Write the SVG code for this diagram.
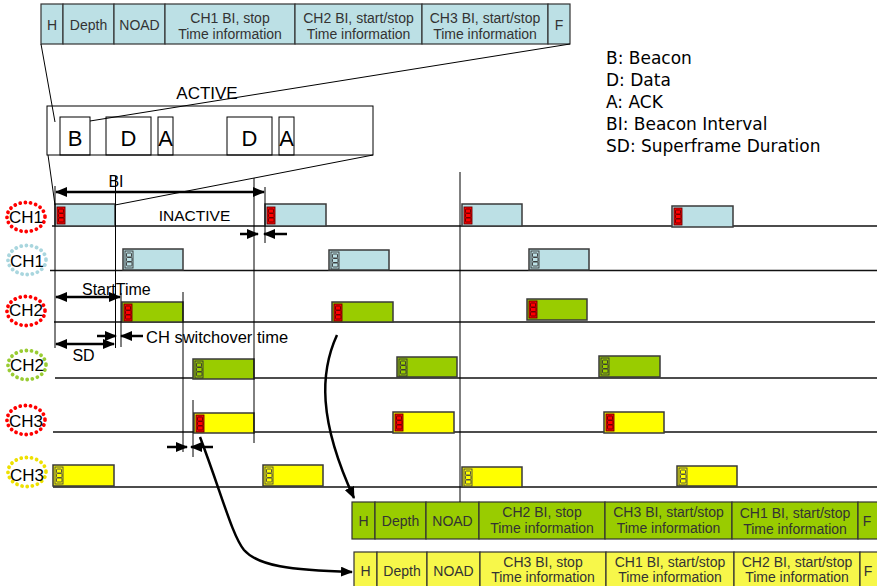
<svg xmlns="http://www.w3.org/2000/svg" xmlns:xlink="http://www.w3.org/1999/xlink" width="877" height="586" viewBox="0 0 877 586">
<style>
  text { font-family: "Liberation Sans", Arial, sans-serif; fill: #000; }
  .ft { font-size: 14px; fill: #333; text-anchor: middle; }
  .cell { stroke: #333; stroke-width: 1.2; }
  .blue { fill: #BCE0E5; }
  .green { fill: #99CC00; }
  .yel { fill: #FFFF00; }
  .yel2 { fill: #F7F74A; }
  .blk { stroke: #3a3a3a; stroke-width: 1.5; }
  .ir { fill: #FF0000; stroke: #600; stroke-width: 0.9; }
  .ib { fill: #BCE0E5; stroke: #333; stroke-width: 0.9; }
  .ig { fill: #99CC00; stroke: #333; stroke-width: 0.9; }
  .iy { fill: #FFFF00; stroke: #444; stroke-width: 0.9; }
  .tl { stroke: #111; stroke-width: 1.5; fill: none; }
  .thin { stroke: #000; stroke-width: 1; fill: none; }
  .arr { stroke: #000; stroke-width: 2.5; fill: none; }
  .ell { fill: none; stroke-width: 3.8; stroke-linecap: round; stroke-dasharray: 0.01 5.2; }
  .lbl { font-size: 17px; text-anchor: middle; }
  .box { fill: none; stroke: #000; stroke-width: 1; }
  .big { font-size: 22px; text-anchor: middle; }
  .leg { font-family: "DejaVu Sans", sans-serif; font-size: 17px; }
</style>
<defs>
  <marker id="ah" markerUnits="userSpaceOnUse" markerWidth="12" markerHeight="10" refX="11" refY="5" orient="auto-start-reverse">
    <path d="M0,0 L12,5 L0,10 z" fill="#000"/>
  </marker>
  <g id="bicon">
    <rect x="0" y="0" width="8" height="17"/>
    <rect x="1.5" y="2" width="5" height="4" rx="0.8"/>
    <rect x="1.5" y="6.5" width="5.5" height="4" rx="0.8"/>
    <rect x="1.5" y="11" width="5.5" height="4" rx="0.8"/>
  </g>
</defs>
<rect width="877" height="586" fill="#fff"/>

<!-- Top frame -->
<g id="frame-ch1">
  <rect class="cell blue" x="41" y="4" width="22" height="40"/>
  <rect class="cell blue" x="63" y="4" width="51" height="40"/>
  <rect class="cell blue" x="114" y="4" width="51" height="40"/>
  <rect class="cell blue" x="165" y="4" width="130" height="40"/>
  <rect class="cell blue" x="295" y="4" width="127" height="40"/>
  <rect class="cell blue" x="422" y="4" width="126" height="40"/>
  <rect class="cell blue" x="548" y="4" width="22" height="40"/>
  <text class="ft" x="52" y="30">H</text>
  <text class="ft" x="88.5" y="30">Depth</text>
  <text class="ft" x="139.5" y="30">NOAD</text>
  <text class="ft" x="230" y="23">CH1 BI, stop</text>
  <text class="ft" x="230" y="39">Time information</text>
  <text class="ft" x="358.5" y="23">CH2 BI, start/stop</text>
  <text class="ft" x="358.5" y="39">Time information</text>
  <text class="ft" x="485" y="23">CH3 BI, start/stop</text>
  <text class="ft" x="485" y="39">Time information</text>
  <text class="ft" x="559" y="30">F</text>
</g>

<!-- Legend -->
<g id="legend">
  <text class="leg" x="606" y="64">B: Beacon</text>
  <text class="leg" x="606" y="86">D: Data</text>
  <text class="leg" x="606" y="108">A: ACK</text>
  <text class="leg" x="606" y="130">BI: Beacon Interval</text>
  <text class="leg" x="606" y="152">SD: Superframe Duration</text>
</g>

<!-- Active detail -->
<g id="active">
  <text x="207" y="99" style="font-size:17px;text-anchor:middle">ACTIVE</text>
  <rect class="box" x="47" y="106" width="326" height="49"/>
  <rect class="box" x="60" y="117" width="30" height="38"/>
  <rect class="box" x="106" y="117" width="45" height="38"/>
  <rect class="box" x="158" y="117" width="15" height="38"/>
  <rect class="box" x="227" y="117" width="45" height="38"/>
  <rect class="box" x="279" y="117" width="15" height="38"/>
  <text class="big" x="75" y="146">B</text>
  <text class="big" x="128.5" y="146">D</text>
  <text class="big" x="165.5" y="146">A</text>
  <text class="big" x="249.5" y="146">D</text>
  <text class="big" x="286.5" y="146">A</text>
</g>

<!-- Channel labels -->
<g id="lbl-ch1-red"><ellipse class="ell" cx="26" cy="217" rx="19" ry="14.5" stroke="#FF0000"/><text class="lbl" x="26" y="223">CH1</text></g>
<g id="lbl-ch1-blue"><ellipse class="ell" cx="27" cy="260" rx="19" ry="14.5" stroke="#A9D6DE"/><text class="lbl" x="27" y="267">CH1</text></g>
<g id="lbl-ch2-red"><ellipse class="ell" cx="26" cy="311" rx="19" ry="14.5" stroke="#FF0000"/><text class="lbl" x="26" y="316">CH2</text></g>
<g id="lbl-ch2-green"><ellipse class="ell" cx="27" cy="365" rx="19" ry="14.5" stroke="#99CC33"/><text class="lbl" x="27" y="371">CH2</text></g>
<g id="lbl-ch3-red"><ellipse class="ell" cx="26" cy="420" rx="19" ry="14.5" stroke="#FF0000"/><text class="lbl" x="26" y="427">CH3</text></g>
<g id="lbl-ch3-yellow"><ellipse class="ell" cx="27" cy="472" rx="19" ry="14.5" stroke="#EEE000"/><text class="lbl" x="27" y="481">CH3</text></g>

<!-- Timeline baselines -->
<g id="timelines">
  <line class="tl" x1="52" y1="226" x2="877" y2="226"/>
  <line class="tl" x1="50" y1="270.5" x2="877" y2="270.5"/>
  <line class="tl" x1="54" y1="322" x2="875" y2="322"/>
  <line class="tl" x1="55" y1="378" x2="877" y2="378"/>
  <line class="tl" x1="53" y1="432" x2="877" y2="432"/>
  <line class="tl" x1="53" y1="487" x2="877" y2="487"/>
</g>

<!-- Blocks -->
<g id="ch1-blocks">
  <rect class="blk blue" x="55" y="204" width="60" height="22"/><use href="#bicon" x="57" y="207" class="ir"/>
  <rect class="blk blue" x="265" y="204" width="61" height="22"/><use href="#bicon" x="267" y="207" class="ir"/>
  <rect class="blk blue" x="462" y="204" width="60" height="22"/><use href="#bicon" x="464" y="207" class="ir"/>
  <rect class="blk blue" x="672" y="206" width="61" height="21"/><use href="#bicon" x="674" y="208" class="ir"/>
</g>
<g id="ch1b-blocks">
  <rect class="blk blue" x="123" y="249" width="60" height="21"/><use href="#bicon" x="125" y="251" class="ib"/>
  <rect class="blk blue" x="329" y="250" width="60" height="20"/><use href="#bicon" x="331" y="252" class="ib"/>
  <rect class="blk blue" x="529" y="249" width="60" height="21"/><use href="#bicon" x="531" y="251" class="ib"/>
</g>
<g id="ch2-blocks">
  <rect class="blk green" x="122" y="302" width="61" height="20"/><use href="#bicon" x="124" y="304" class="ir"/>
  <rect class="blk green" x="332" y="302" width="61" height="20"/><use href="#bicon" x="334" y="304" class="ir"/>
  <rect class="blk green" x="527" y="299" width="60" height="21"/><use href="#bicon" x="529" y="301" class="ir"/>
</g>
<g id="ch2g-blocks">
  <rect class="blk green" x="193" y="359" width="61" height="20"/><use href="#bicon" x="195" y="361" class="ig"/>
  <rect class="blk green" x="397" y="357" width="60" height="20"/><use href="#bicon" x="399" y="359" class="ig"/>
  <rect class="blk green" x="599" y="356" width="61" height="21"/><use href="#bicon" x="601" y="358" class="ig"/>
</g>
<g id="ch3-blocks">
  <rect class="blk yel" x="194" y="413" width="60" height="20"/><use href="#bicon" x="196" y="415" class="ir"/>
  <rect class="blk yel" x="393" y="412" width="61" height="21"/><use href="#bicon" x="395" y="414" class="ir"/>
  <rect class="blk yel" x="604" y="412" width="60" height="21"/><use href="#bicon" x="606" y="414" class="ir"/>
</g>
<g id="ch3y-blocks">
  <rect class="blk yel" x="53" y="465" width="61" height="21"/><use href="#bicon" x="55" y="467" class="iy"/>
  <rect class="blk yel" x="263" y="465" width="60" height="21"/><use href="#bicon" x="265" y="467" class="iy"/>
  <rect class="blk yel" x="462" y="467" width="60" height="20"/><use href="#bicon" x="464" y="469" class="iy"/>
  <rect class="blk yel" x="677" y="466" width="60" height="20"/><use href="#bicon" x="679" y="468" class="iy"/>
</g>

<!-- Bottom frames -->
<g id="frame-ch2">
  <rect class="cell green" x="352" y="502" width="23" height="37"/>
  <rect class="cell green" x="375" y="502" width="51" height="37"/>
  <rect class="cell green" x="426" y="502" width="53" height="37"/>
  <rect class="cell green" x="479" y="502" width="126" height="37"/>
  <rect class="cell green" x="605" y="502" width="127" height="37"/>
  <rect class="cell green" x="732" y="502" width="126" height="37"/>
  <rect class="cell green" x="858" y="502" width="24" height="37"/>
  <text class="ft" x="363.5" y="526">H</text>
  <text class="ft" x="400.5" y="526">Depth</text>
  <text class="ft" x="452.5" y="526">NOAD</text>
  <text class="ft" x="542" y="517">CH2 BI, stop</text>
  <text class="ft" x="542" y="533">Time information</text>
  <text class="ft" x="668.5" y="517">CH3 BI, start/stop</text>
  <text class="ft" x="668.5" y="533">Time information</text>
  <text class="ft" x="795" y="518">CH1 BI, start/stop</text>
  <text class="ft" x="795" y="534">Time information</text>
  <text class="ft" x="867" y="526">F</text>
</g>
<g id="frame-ch3">
  <rect class="cell yel2" x="354" y="552" width="23" height="40"/>
  <rect class="cell yel2" x="377" y="552" width="50" height="40"/>
  <rect class="cell yel2" x="427" y="552" width="53" height="40"/>
  <rect class="cell yel2" x="480" y="552" width="126" height="40"/>
  <rect class="cell yel2" x="606" y="552" width="128" height="40"/>
  <rect class="cell yel2" x="734" y="552" width="126" height="40"/>
  <rect class="cell yel2" x="860" y="552" width="24" height="40"/>
  <text class="ft" x="365.5" y="576">H</text>
  <text class="ft" x="402" y="576">Depth</text>
  <text class="ft" x="453.5" y="576">NOAD</text>
  <text class="ft" x="543" y="567">CH3 BI, stop</text>
  <text class="ft" x="543" y="582">Time information</text>
  <text class="ft" x="670" y="567">CH1 BI, start/stop</text>
  <text class="ft" x="670" y="582">Time information</text>
  <text class="ft" x="797" y="567">CH2 BI, start/stop</text>
  <text class="ft" x="797" y="582">Time information</text>
  <text class="ft" x="868" y="576">F</text>
</g>

<!-- Connectors -->
<g id="connectors">
  <line class="thin" x1="41" y1="44" x2="55" y2="122"/>
  <line class="thin" x1="570" y1="44" x2="90" y2="121"/>
  <line class="thin" x1="48" y1="155" x2="55" y2="205"/>
  <line class="thin" x1="373" y1="155" x2="115" y2="205"/>
  <line class="thin" x1="55" y1="186" x2="55" y2="348"/>
  <line class="thin" x1="115.5" y1="176" x2="115.5" y2="348"/>
  <line class="thin" x1="121" y1="293" x2="121" y2="347"/>
  <line class="thin" x1="183" y1="292" x2="183" y2="452"/>
  <line class="thin" x1="193" y1="400" x2="193" y2="457"/>
  <line class="thin" x1="254" y1="178" x2="254" y2="443"/>
  <line class="thin" x1="265" y1="187" x2="265" y2="243"/>
  <line class="thin" x1="460" y1="172" x2="460" y2="502"/>
  <line class="arr" x1="56" y1="192" x2="264" y2="192" marker-start="url(#ah)" marker-end="url(#ah)"/>
  <line class="arr" x1="240" y1="234" x2="258" y2="234" marker-end="url(#ah)"/>
  <line class="arr" x1="287" y1="234" x2="264" y2="234" marker-end="url(#ah)"/>
  <line class="arr" x1="56" y1="297" x2="120" y2="297" marker-start="url(#ah)" marker-end="url(#ah)"/>
  <line class="arr" x1="97" y1="336" x2="116" y2="336" marker-end="url(#ah)"/>
  <line class="arr" x1="143" y1="336" x2="121" y2="336" marker-end="url(#ah)"/>
  <line class="arr" x1="56" y1="344" x2="114" y2="344" marker-start="url(#ah)" marker-end="url(#ah)"/>
  <line class="arr" x1="167" y1="447" x2="187" y2="447" marker-end="url(#ah)"/>
  <line class="arr" x1="213" y1="447" x2="191" y2="447" marker-end="url(#ah)"/>
  <path class="arr" d="M337,335 C320,372 318,420 354,498" marker-end="url(#ah)"/>
  <path class="arr" d="M200,437 C222,495 232,535 244,550 C258,566 290,570 352,572" marker-end="url(#ah)"/>
  <text x="116" y="187" style="font-size:16px;text-anchor:middle">BI</text>
  <text x="194.5" y="221" style="font-size:15.5px;text-anchor:middle">INACTIVE</text>
  <text x="82" y="295" style="font-size:16px">StartTime</text>
  <text x="146" y="343" style="font-size:16.5px">CH switchover time</text>
  <text x="83.5" y="361" style="font-size:16px;text-anchor:middle">SD</text>
</g>
</svg>
